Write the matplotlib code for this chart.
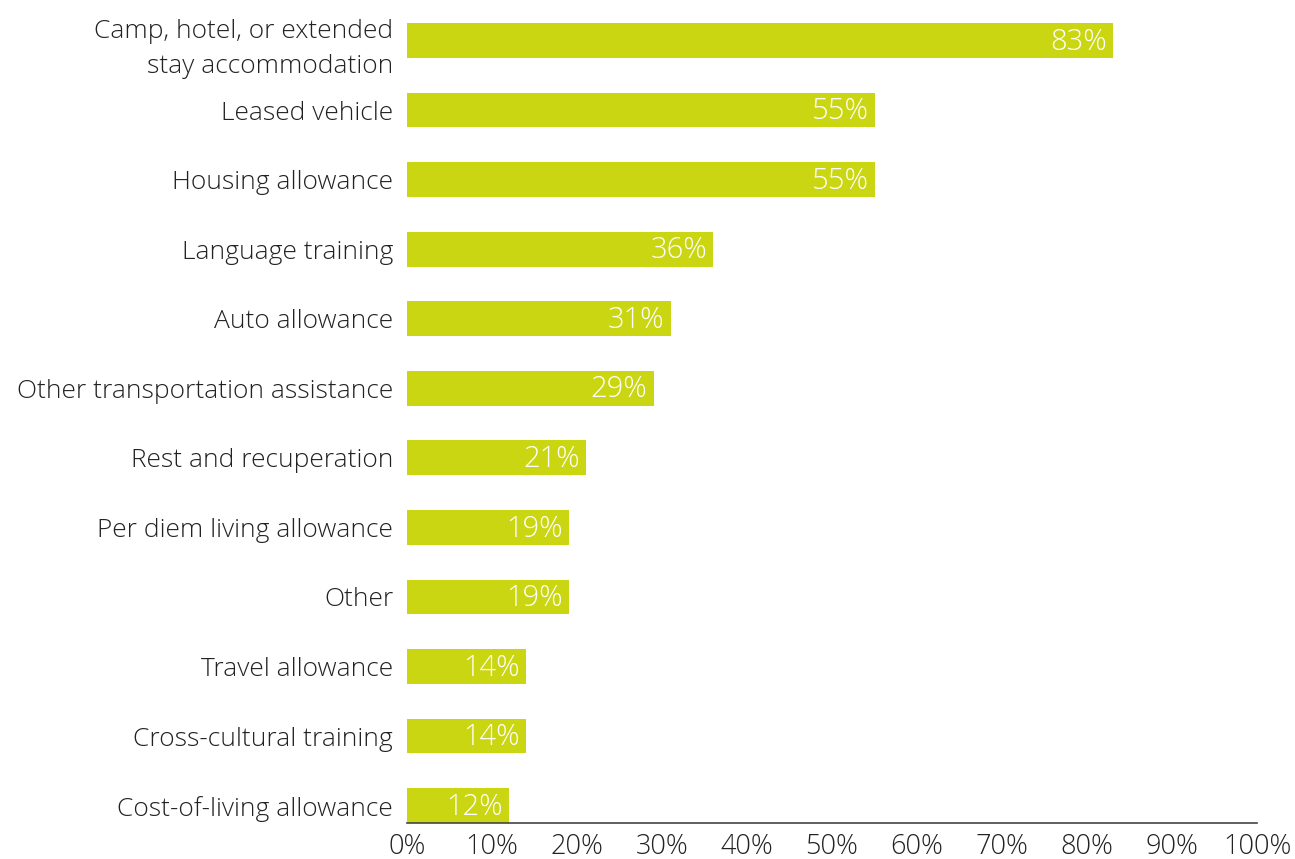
import matplotlib
matplotlib.use("Agg")
import matplotlib.pyplot as plt

categories = [
    "Camp, hotel, or extended\nstay accommodation",
    "Leased vehicle",
    "Housing allowance",
    "Language training",
    "Auto allowance",
    "Other transportation assistance",
    "Rest and recuperation",
    "Per diem living allowance",
    "Other",
    "Travel allowance",
    "Cross-cultural training",
    "Cost-of-living allowance",
]
values = [83, 55, 55, 36, 31, 29, 21, 19, 19, 14, 14, 12]
xticks = [0, 10, 20, 30, 40, 50, 60, 70, 80, 90, 100]

plt.rcParams["font.family"] = ["Open Sans", "DejaVu Sans"]
plt.rcParams["font.weight"] = "light"

fig = plt.figure(figsize=(12.95, 8.59), dpi=100)
ax = fig.add_axes([0.3143, 0.0419, 0.9707 - 0.3143, 0.932])

bar_color = "#CAD612"
text_color = "#222222"
ypos = list(range(len(categories)))
ax.barh(ypos, values, height=0.5, color=bar_color)

for y, v in zip(ypos, values):
    ax.text(v - 0.7, y + 0.02, f"{v}%", ha="right", va="center", color="white",
            fontsize=21)

ax.set_xlim(0, 100)
ax.set_ylim(11.25, -0.26)
ax.set_yticks(ypos)
ax.set_yticklabels(categories, fontsize=19, color=text_color, linespacing=1.55)
ax.set_xticks(xticks)
ax.set_xticklabels([f"{t}%" for t in xticks], fontsize=19.5, color=text_color)
ax.tick_params(axis="both", length=0)
ax.tick_params(axis="y", pad=10)
ax.tick_params(axis="x", pad=7)

for s in ["top", "right", "left"]:
    ax.spines[s].set_visible(False)
ax.spines["bottom"].set_color("#444444")
ax.spines["bottom"].set_linewidth(1.2)

fig.savefig("out.png", dpi=100)
